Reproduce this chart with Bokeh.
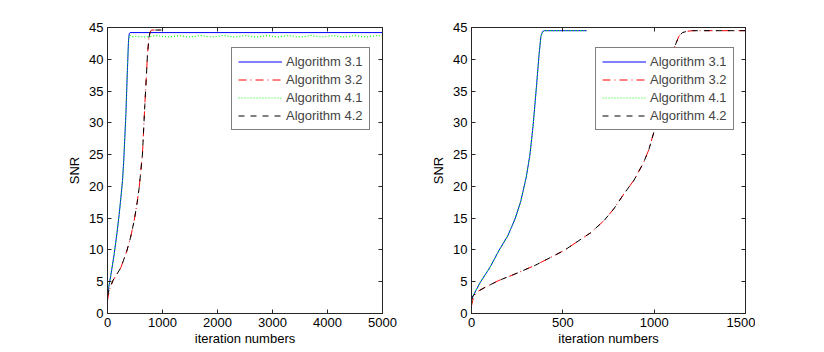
from bokeh.plotting import figure
from bokeh.layouts import row
from bokeh.models import (Range1d, SingleIntervalTicker, LinearAxis, Legend,
                          LegendItem, CustomJSTickFormatter)
from bokeh.embed import file_html
from bokeh.resources import INLINE

# ---------------- data ----------------
labels = ["Algorithm 3.1", "Algorithm 3.2", "Algorithm 4.1", "Algorithm 4.2"]

# left panel (0..5000 iterations)
L_x31 = [0, 30, 60, 121, 170, 212, 250, 273, 295, 315, 335, 351, 367, 382, 395, 411, 5000]
L_y31 = [3.0, 4.5, 6.0, 9.3, 12.5, 15.6, 18.8, 20.9, 24.0, 27.7, 31.5, 35.6, 39.5, 42.9, 44.0, 44.2, 44.2]

L_x41 = [0, 30, 60, 121, 170, 212, 250, 273, 295, 315, 335, 351, 367, 382, 395, 420, 460,
         500, 600, 700, 800, 900, 1000, 1100, 1200, 1300, 1400, 1500, 1600, 1700, 1800,
         1900, 2000, 2100, 2200, 2300, 2400, 2500, 2600, 2700, 2800, 2900, 3000, 3100,
         3200, 3300, 3400, 3500, 3600, 3700, 3800, 3900, 4000, 4100, 4200, 4300, 4400,
         4500, 4600, 4700, 4800, 4900, 5000]
L_y41 = [3.0, 4.5, 6.0, 9.3, 12.5, 15.6, 18.8, 20.9, 24.0, 27.7, 31.5, 35.6, 39.5, 42.9, 43.8, 43.7, 43.55,
         43.6, 43.55, 43.5, 43.6, 43.75, 43.6, 43.5, 43.6, 43.75, 43.6, 43.5, 43.6, 43.75, 43.6,
         43.5, 43.6, 43.75, 43.6, 43.5, 43.6, 43.75, 43.6, 43.5, 43.6, 43.75, 43.6, 43.5,
         43.6, 43.75, 43.6, 43.5, 43.6, 43.75, 43.6, 43.5, 43.6, 43.75, 43.6, 43.5, 43.6,
         43.75, 43.6, 43.5, 43.6, 43.75, 43.6]

L_x32 = [0, 30, 100, 242, 350, 420, 485, 540, 576, 636, 679, 705, 727, 755, 776, 800, 980]
L_y32 = [2.0, 3.6, 5.2, 7.2, 9.8, 12.0, 14.6, 17.5, 19.8, 25.1, 32.9, 37.0, 40.8, 43.5, 44.3, 44.6, 44.6]
L_x42 = [0, 30, 100, 242, 350, 420, 485, 540, 576, 636, 679, 705, 727, 755, 776, 800, 980]
L_y42 = [2.8, 3.8, 5.2, 7.2, 9.8, 12.0, 14.6, 17.5, 19.8, 25.1, 32.9, 37.0, 40.8, 43.5, 44.3, 44.6, 44.6]

# right panel (0..1500 iterations)
R_x31 = [0, 5, 50, 100, 150, 200, 240, 270, 300, 320, 337, 355, 370, 380, 390, 400, 630]
R_y31 = [1.5, 2.6, 5.0, 7.2, 9.9, 12.3, 15.0, 17.7, 21.5, 25.0, 29.5, 35.5, 40.8, 43.6, 44.4, 44.5, 44.5]
R_x41 = [0, 5, 50, 100, 150, 200, 240, 270, 300, 320, 337, 355, 370, 380, 390, 400, 630]
R_y41 = [1.5, 2.6, 5.0, 7.2, 9.9, 12.3, 15.0, 17.7, 21.5, 25.0, 29.5, 35.5, 40.8, 43.6, 44.4, 44.5, 44.5]

R_x32 = [0, 10, 30, 73, 150, 237, 350, 506, 652, 725, 780, 834, 890, 943, 971, 998, 1025, 1050,
         1080, 1111, 1135, 1155, 1180, 1210, 1500]
R_y32 = [1.2, 2.5, 3.4, 4.1, 5.2, 6.2, 7.6, 9.9, 12.7, 14.6, 16.5, 18.8, 21.0, 23.8, 25.8, 28.5, 31.5, 34.6,
         38.5, 41.9, 43.6, 44.2, 44.4, 44.5, 44.5]
R_x42 = [0, 10, 30, 73, 150, 237, 350, 506, 652, 725, 780, 834, 890, 943, 971, 998, 1025, 1050,
         1080, 1111, 1135, 1155, 1180, 1210, 1500]
R_y42 = [2.3, 2.8, 3.4, 4.1, 5.2, 6.2, 7.6, 9.9, 12.7, 14.6, 16.5, 18.8, 21.0, 23.8, 25.8, 28.5, 31.5, 34.6,
         38.5, 41.9, 43.6, 44.2, 44.4, 44.5, 44.5]

# ---------------- styling ----------------
FONT = "Liberation Sans"
FS = "13px"
AX = "#262626"


def style_axis(ax):
    ax.axis_line_color = AX
    ax.major_tick_line_color = AX
    ax.major_tick_in = 4
    ax.major_tick_out = 0
    ax.minor_tick_line_color = None
    ax.major_label_text_font = FONT
    ax.major_label_text_font_size = FS
    ax.major_label_text_color = "black"
    ax.major_label_standoff = 4
    ax.axis_label_text_font = FONT
    ax.axis_label_text_font_size = FS
    ax.axis_label_text_font_style = "normal"
    ax.axis_label_text_color = "black"
    ax.axis_label_standoff = 1


def make_fig(xmax, xstep, left_border, right_border, frame_w, series):
    p = figure(frame_width=frame_w, frame_height=286,
               x_range=Range1d(0, xmax), y_range=Range1d(0, 45),
               output_backend="svg", toolbar_location=None,
               min_border_left=left_border, min_border_right=right_border,
               min_border_top=27, min_border_bottom=39)
    p.background_fill_color = "white"
    p.border_fill_color = "white"
    p.outline_line_color = AX
    p.grid.visible = False
    p.xaxis.ticker = SingleIntervalTicker(interval=xstep, num_minor_ticks=0)
    p.yaxis.ticker = SingleIntervalTicker(interval=5, num_minor_ticks=0)
    p.xaxis.axis_label = "iteration numbers"
    p.yaxis.axis_label = "SNR"
    style_axis(p.xaxis[0])
    style_axis(p.yaxis[0])
    p.yaxis.major_label_standoff = 4
    p.yaxis.axis_label_standoff = 4

    # box ticks on top / right (MATLAB "box on")
    empty = CustomJSTickFormatter(code="return ''")
    top = LinearAxis(ticker=SingleIntervalTicker(interval=xstep, num_minor_ticks=0),
                     formatter=empty)
    right = LinearAxis(ticker=SingleIntervalTicker(interval=5, num_minor_ticks=0),
                       formatter=empty)
    for a in (top, right):
        style_axis(a)
        a.major_label_standoff = 0
    p.add_layout(top, "above")
    p.add_layout(right, "right")

    (x31, y31), (x32, y32), (x41, y41), (x42, y42) = series
    r1 = p.line(x31, y31, line_color="#0000ff", line_width=1)
    r2 = p.line(x32, y32, line_color="#ff0000", line_width=1, line_dash="8 4 1 4")
    r3 = p.line(x41, y41, line_color="#00ff00", line_width=1.2, line_dash="1 2")
    r4 = p.line(x42, y42, line_color="black", line_width=1, line_dash="6 6")

    legend = Legend(items=[LegendItem(label=labels[0], renderers=[r1]),
                           LegendItem(label=labels[1], renderers=[r2]),
                           LegendItem(label=labels[2], renderers=[r3]),
                           LegendItem(label=labels[3], renderers=[r4])],
                    location=(124, 183), margin=0, padding=6, spacing=3,
                    glyph_width=44, glyph_height=15, label_height=15,
                    label_standoff=4, label_text_font=FONT,
                    label_text_font_size=FS, border_line_color="black",
                    border_line_width=1, background_fill_color="white",
                    background_fill_alpha=1.0)
    p.add_layout(legend)
    return p


p1 = make_fig(5000, 1000, 107, 44, 275,
              [(L_x31, L_y31), (L_x32, L_y32), (L_x41, L_y41), (L_x42, L_y42)])
p2 = make_fig(1500, 500, 45, 10, 274,
              [(R_x31, R_y31), (R_x32, R_y32), (R_x41, R_y41), (R_x42, R_y42)])

layout = row(p1, p2, spacing=0)
open("out.html", "w").write(file_html(layout, INLINE))
